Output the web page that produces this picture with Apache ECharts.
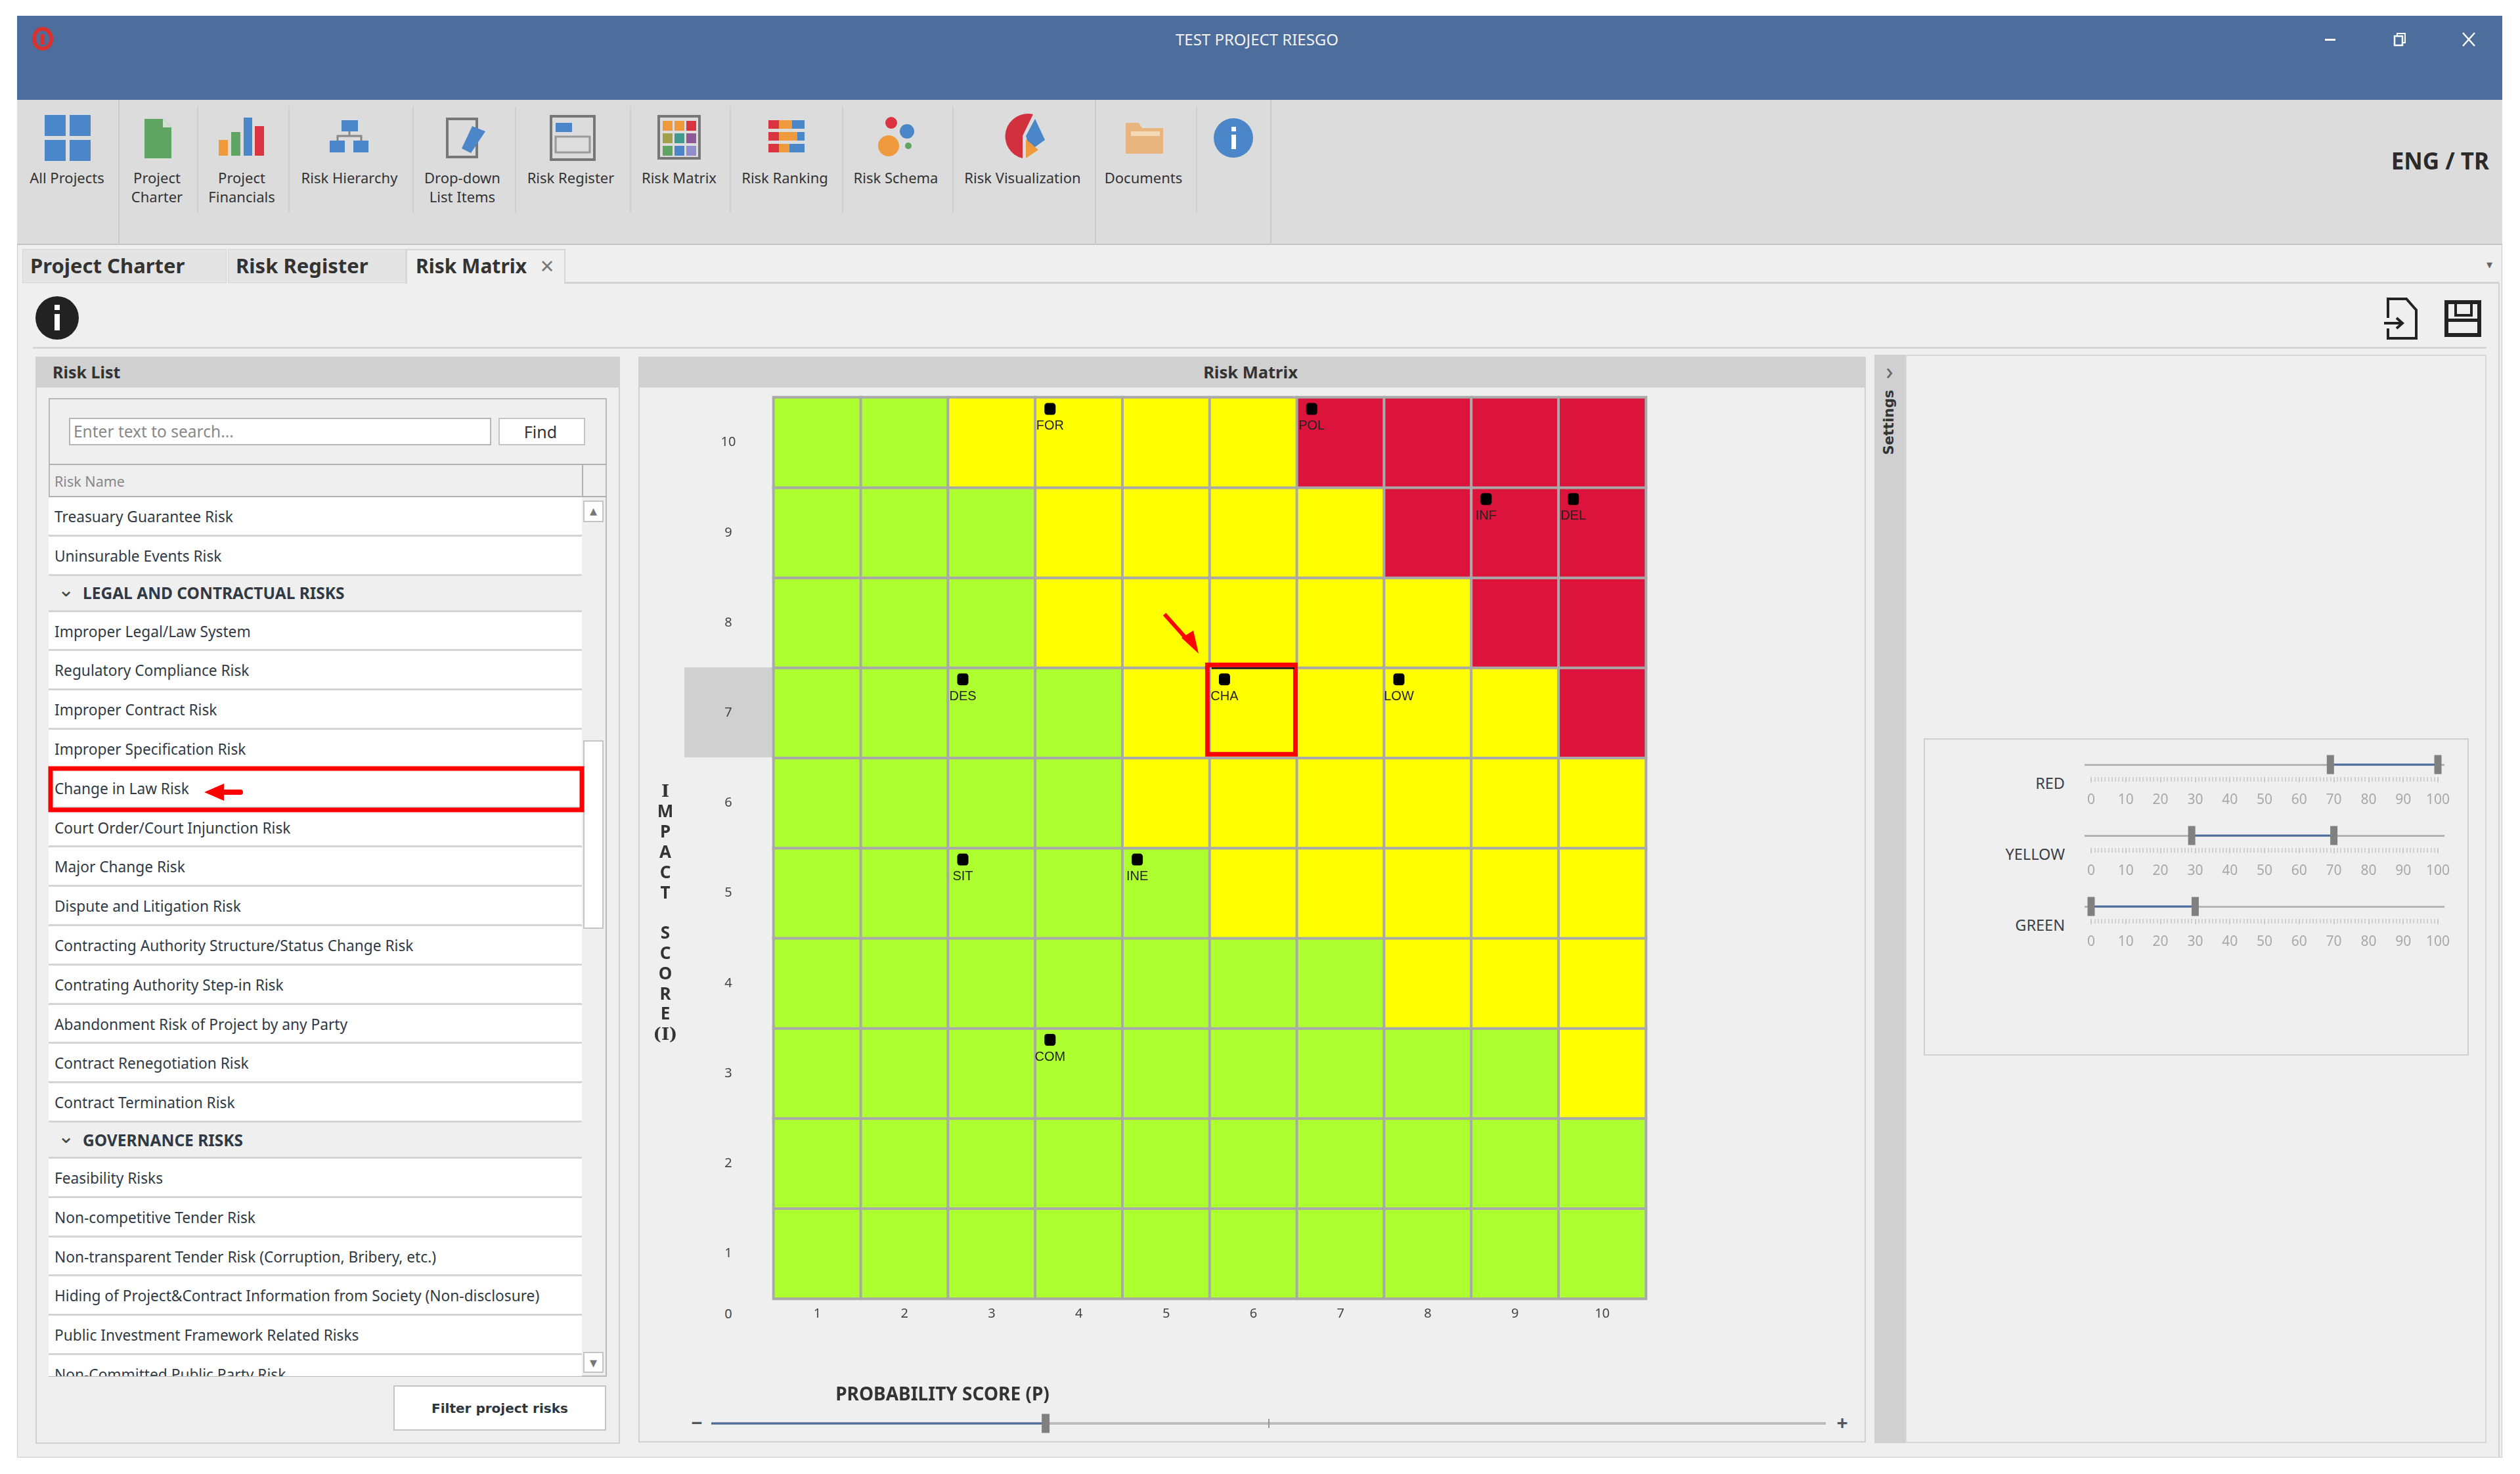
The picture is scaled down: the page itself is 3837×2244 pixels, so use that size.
<!DOCTYPE html>
<html>
<head>
<meta charset="utf-8">
<title>Risk Matrix</title>
<script src="https://cdn.jsdelivr.net/npm/echarts@6/dist/echarts.min.js"></script>
<style>
html, body { margin: 0; padding: 0; background: #fff; }
#page { position: relative; width: 3837px; height: 2244px; overflow: hidden; font-family: "Noto Sans", sans-serif; color: #2c3640; }
#page div { position: absolute; box-sizing: border-box; white-space: nowrap; }
#chart { left: 0; top: 0; width: 3837px; height: 2244px; z-index: 1; }
#overlay { position: absolute; left: 0; top: 0; z-index: 2; pointer-events: none; }
</style>
</head>
<body>
<div id="page">
<div id="chart"></div>
<svg id="overlay" width="3837" height="2244" viewBox="0 0 3837 2244">
  <!-- logo + window buttons -->
  <ellipse cx="65" cy="59" rx="13" ry="15" fill="none" stroke="#d8322e" stroke-width="6"/>
  <rect x="62" y="52" width="6" height="16" fill="#d8322e"/>
  <rect x="3540" y="59" width="16" height="3" fill="#fff"/>
  <rect x="3646" y="55" width="12" height="14" fill="none" stroke="#fff" stroke-width="2.5"/>
  <path d="M3650 55v-4h12v14h-4" fill="none" stroke="#fff" stroke-width="2"/>
  <path d="M3750 50l18 20M3768 50l-18 20" stroke="#fff" stroke-width="2.5"/>
  <!-- all projects -->
  <g fill="#4a86c8"><rect x="68" y="175" width="32" height="32"/><rect x="106" y="175" width="32" height="32"/><rect x="68" y="213" width="32" height="32"/><rect x="106" y="213" width="32" height="32"/></g>
  <!-- charter -->
  <path d="M220 181h28l13 13v47h-41z" fill="#5fa463"/><path d="M248 181l13 13h-13z" fill="#cfe3d0"/>
  <!-- financials -->
  <rect x="333" y="213" width="14" height="24" fill="#ef9a3c"/><rect x="352" y="201" width="14" height="36" fill="#5fa463"/><rect x="371" y="179" width="13" height="58" fill="#4a86c8"/><rect x="388" y="192" width="14" height="45" fill="#d9343f"/>
  <!-- hierarchy -->
  <path d="M532 200v7M514 214v-7h36v7" fill="none" stroke="#888" stroke-width="3"/>
  <rect x="520" y="183" width="25" height="17" fill="#4a86c8"/><rect x="502" y="214" width="23" height="18" fill="#4a86c8"/><rect x="538" y="214" width="23" height="18" fill="#4a86c8"/>
  <!-- drop-down -->
  <rect x="681" y="181" width="45" height="58" fill="none" stroke="#777" stroke-width="4"/>
  <path d="M719 192l20 8-22 33-14-7z" fill="#4a86c8"/>
  <!-- register -->
  <rect x="839" y="177" width="66" height="66" fill="none" stroke="#777" stroke-width="4"/>
  <rect x="846" y="187" width="25" height="14" fill="#4a86c8"/><rect x="846" y="208" width="52" height="24" fill="#ddd" stroke="#999" stroke-width="3"/>
  <!-- matrix -->
  <rect x="1003" y="177" width="62" height="64" fill="#ddd" stroke="#777" stroke-width="4"/>
  <g><rect x="1009" y="184" width="15" height="15" fill="#ef9a3c"/><rect x="1027" y="184" width="15" height="15" fill="#ef9a3c"/><rect x="1045" y="184" width="15" height="15" fill="#d9343f"/>
  <rect x="1009" y="203" width="15" height="15" fill="#a3a04a"/><rect x="1027" y="203" width="15" height="15" fill="#3f9c8f"/><rect x="1045" y="203" width="15" height="15" fill="#8d5a97"/>
  <rect x="1009" y="222" width="15" height="15" fill="#5fa463"/><rect x="1027" y="222" width="15" height="15" fill="#4a86c8"/><rect x="1045" y="222" width="15" height="15" fill="#8f8fce"/></g>
  <!-- ranking -->
  <g><rect x="1170" y="183" width="16" height="13" fill="#d9343f"/><rect x="1186" y="183" width="20" height="13" fill="#ef9a3c"/><rect x="1206" y="183" width="19" height="13" fill="#4a86c8"/>
  <rect x="1170" y="201" width="16" height="13" fill="#d9343f"/><rect x="1186" y="201" width="28" height="13" fill="#ef9a3c"/><rect x="1214" y="201" width="11" height="13" fill="#4a86c8"/>
  <rect x="1170" y="219" width="16" height="13" fill="#d9343f"/><rect x="1186" y="219" width="16" height="13" fill="#ef9a3c"/><rect x="1202" y="219" width="23" height="13" fill="#4a86c8"/></g>
  <!-- schema -->
  <circle cx="1357" cy="187" r="9" fill="#d9343f"/><circle cx="1381" cy="200" r="11" fill="#4a86c8"/><circle cx="1353" cy="222" r="16" fill="#ef9a3c"/><circle cx="1383" cy="222" r="5" fill="#5fa463"/>
  <!-- visualization -->
  <path d="M1557 207l16-33A34 34 0 1 0 1557 241z" fill="#d2303f"/>
  <path d="M1562 207l14-26 15 32-22 16z" fill="#4a86c8"/><path d="M1562 212l19 16-19 13z" fill="#ef9a3c"/>
  <!-- documents -->
  <path d="M1714 187h20l5 8h32v39h-57z" fill="#e8b57e"/><rect x="1722" y="200" width="44" height="7" fill="#f3d9b8"/>
  <!-- info -->
  <circle cx="1878" cy="210" r="30" fill="#4a86c8"/><rect x="1875" y="205" width="7" height="22" fill="#fff"/><rect x="1875" y="193" width="7" height="7" fill="#fff"/>
  <circle cx="87" cy="484" r="33" fill="#222"/><rect x="83" y="478" width="8" height="25" fill="#fff"/><rect x="83" y="464" width="8" height="8" fill="#fff"/>
  <!-- export + save -->
  <path d="M3636 484v-29h28l15 17v43h-43v-15" fill="none" stroke="#222" stroke-width="4"/>
  <path d="M3630 492h28m-9-8l9 8-9 8" fill="none" stroke="#222" stroke-width="4"/>
  <rect x="3725" y="460" width="50" height="50" fill="none" stroke="#222" stroke-width="6"/>
  <rect x="3725" y="485" width="50" height="5" fill="#222"/><rect x="3739" y="460" width="24" height="20" fill="none" stroke="#222" stroke-width="4"/>
  <!-- annotation arrows -->
  <path d="M1773 935l34 38" stroke="#ff0000" stroke-width="6" fill="none"/>
  <path d="M1825 995l-26-24 18-11z" fill="#ff0000"/>
  <path d="M338 1206h28" stroke="#ff0000" stroke-width="8" stroke-linecap="round"/>
  <path d="M311 1206l30-13v26z" fill="#ff0000"/>
  <!-- list highlight -->
  <rect x="77" y="1170" width="809" height="63" fill="none" stroke="#ff0000" stroke-width="7"/>
  <rect x="1845" y="1016" width="126" height="2.5" fill="#111"/>
</svg>
</div>
<script>
// ---- matrix data ----
var probLabels = ['1','2','3','4','5','6','7','8','9','10'];
var impactLabels = ['1','2','3','4','5','6','7','8','9','10'];
var zoneNames = ['green','yellow','red'];
var zoneColors = ['#adff2f','#ffff00','#dc143c'];
// one row per impact score, 1 at the bottom; 0 green, 1 yellow, 2 red
var impact1 = [0,0,0,0,0,0,0,0,0,0];
var impact2 = [0,0,0,0,0,0,0,0,0,0];
var impact3 = [0,0,0,0,0,0,0,0,0,1];
var impact4 = [0,0,0,0,0,0,0,1,1,1];
var impact5 = [0,0,0,0,0,1,1,1,1,1];
var impact6 = [0,0,0,0,1,1,1,1,1,1];
var impact7 = [0,0,0,0,1,1,1,1,1,2];
var impact8 = [0,0,0,1,1,1,1,1,2,2];
var impact9 = [0,0,0,1,1,1,1,2,2,2];
var impact10 = [0,0,1,1,1,1,2,2,2,2];
var zoneRows = [impact1,impact2,impact3,impact4,impact5,impact6,impact7,impact8,impact9,impact10];

var riskCodes = ['FOR','POL','INF','DEL','DES','CHA','LOW','SIT','INE','COM'];
var riskProb = [4,7,9,10,3,6,8,3,5,4];
var riskImpact = [10,10,9,9,7,7,7,5,5,3];
var selectedCell = [6,7];

// ---- slider values ----
var sliderNames = ['RED','YELLOW','GREEN'];
var redRange = [69,100];
var yellowRange = [29,70];
var greenRange = [0,30];
var probabilitySlider = 30;

// ---- interface text ----
var groupNames = ['LEGAL AND CONTRACTUAL RISKS','GOVERNANCE RISKS'];
var riskList = ['Treasuary Guarantee Risk','Uninsurable Events Risk','LEGAL AND CONTRACTUAL RISKS','Improper Legal/Law System','Regulatory Compliance Risk','Improper Contract Risk','Improper Specification Risk','Change in Law Risk','Court Order/Court Injunction Risk','Major Change Risk','Dispute and Litigation Risk','Contracting Authority Structure/Status Change Risk','Contrating Authority Step-in Risk','Abandonment Risk of Project by any Party','Contract Renegotiation Risk','Contract Termination Risk','GOVERNANCE RISKS','Feasibility Risks','Non-competitive Tender Risk','Non-transparent Tender Risk (Corruption, Bribery, etc.)','Hiding of Project&Contract Information from Society (Non-disclosure)','Public Investment Framework Related Risks','Non-Committed Public Party Risk'];
var ribbonLabels = ['All Projects','Project\nCharter','Project\nFinancials','Risk Hierarchy','Drop-down\nList Items','Risk Register','Risk Matrix','Risk Ranking','Risk Schema','Risk Visualization','Documents'];
var ribbonCenters = [102,239,368,532,704,869,1034,1195,1364,1557,1741];
var ribbonSeparators = [300,439,628,784,959,1111,1282,1450,1821];
var impactTitle = ['I','M','P','A','C','T',' ','S','C','O','R','E','(I)'];

var page = document.getElementById('page');
var chartDiv = document.getElementById('chart');

function box(x, y, w, h, css, parent) {
    var d = document.createElement('div');
    d.style.cssText = 'left:'+x+'px;top:'+y+'px;width:'+w+'px;height:'+h+'px;' + (css || '');
    (parent || page).insertBefore(d, parent ? null : chartDiv);
    return d;
}
// text centred vertically on cy; align l / c / r against x
function text(str, x, cy, size, css, align, parent) {
    var d = document.createElement('div');
    var tx = align === 'c' ? '-50%' : (align === 'r' ? '-100%' : '0');
    d.style.cssText = 'left:'+x+'px;top:'+cy+'px;transform:translate('+tx+',-50%);font-size:'+size+'px;line-height:1.2;' + (css || '');
    d.textContent = str;
    (parent || page).insertBefore(d, parent ? null : chartDiv);
    return d;
}

// window frame
box(26, 24, 3784, 2195, 'background:#efefef;border:1px solid #c8c8c8;');
box(26, 24, 3784, 128, 'background:#4d6d9c;');
box(26, 152, 3784, 221, 'background:#dcdcdc;border-bottom:2px solid #c4c4c4;');
text('TEST PROJECT RIESGO', 1914, 60, 24, 'color:#f2f2f2;', 'c');
text('ENG / TR', 3790, 245, 35, 'font-weight:bold;color:#2a2a2a;', 'r');
[180,1667,1934].forEach(function (x) { box(x, 152, 2, 221, 'background:#cacaca;'); });
ribbonSeparators.forEach(function (x) { box(x, 162, 2, 162, 'background:#cfcfcf;'); });
ribbonLabels.forEach(function (s, i) {
    s.split('\n').forEach(function (line, j) {
        text(line, ribbonCenters[i], 270 + j * 29, 22, 'color:#333;', 'c');
    });
});

// tabs
box(34, 379, 311, 52, 'background:#e4e4e4;border:1px solid #d6d6d6;');
box(347, 379, 271, 52, 'background:#e4e4e4;border:1px solid #d6d6d6;');
box(618, 379, 243, 53, 'background:#efefef;border:2px solid #d6d6d6;border-bottom:none;');
box(861, 429, 2944, 3, 'background:#d2d2d2;');
text('Project Charter', 46, 405, 31, 'font-weight:bold;color:#333;');
text('Risk Register', 359, 405, 31, 'font-weight:bold;color:#333;');
text('Risk Matrix', 633, 405, 30, 'font-weight:bold;color:#333;');
text('×', 833, 405, 36, 'color:#777;', 'c');
text('▾', 3790, 403, 18, 'color:#666;', 'c');
box(3804, 431, 2, 1788, 'background:#d2d2d2;');
box(50, 528, 3736, 3, 'background:#d6d6d6;');

// panels
box(54, 543, 890, 1655, 'border:2px solid #d0d0d0;');
box(54, 543, 890, 47, 'background:#d0d0d0;');
text('Risk List', 80, 566, 25, 'font-weight:bold;color:#333;');
box(972, 543, 1869, 1653, 'border:2px solid #d0d0d0;');
box(972, 543, 1869, 47, 'background:#d0d0d0;');
text('Risk Matrix', 1904, 566, 25.5, 'font-weight:bold;color:#333;', 'c');
box(2854, 540, 47, 1657, 'background:#d0d0d0;');
box(2901, 540, 885, 1657, 'border:2px solid #d8d8d8;');
text('›', 2877, 565, 36, 'color:#666;', 'c');
text('Settings', 2877, 643, 21, 'font-family:\'DejaVu Sans\';font-weight:bold;color:#333;transform:translate(-50%,-50%) rotate(-90deg);', 'c');
box(2929, 1124, 830, 483, 'border:2px solid #d0d0d0;');

// risk list
box(74, 606, 850, 1490, 'border:2px solid #b8b8b8;');
box(105, 636, 643, 42, 'background:#fff;border:2px solid #b5b5b5;');
box(759, 636, 132, 42, 'background:#fff;border:2px solid #c4c4c4;');
text('Enter text to search...', 112, 657, 24.5, 'color:#888;');
text('Find', 823, 657, 25, 'color:#333;', 'c');
box(74, 706, 850, 51, 'border-top:2px solid #b0b0b0;border-bottom:2px solid #b0b0b0;');
box(886, 706, 2, 51, 'background:#b0b0b0;');
text('Risk Name', 83, 733, 21.5, 'color:#888;');

var listBox = box(74, 757, 812, 1338, 'overflow:hidden;');
var rowTop = 0;
riskList.forEach(function (name) {
    var isGroup = groupNames.indexOf(name) >= 0;
    var h = isGroup ? 55 : 59.8;
    box(0, rowTop, 812, h, (isGroup ? 'background:#efefef;' : 'background:#fff;') + 'border-bottom:3px solid #d4d4d4;', listBox);
    if (isGroup) {
        text('⌄', 26, rowTop + 20, 30, 'color:#444;', 'c', listBox);
        text(name, 52, rowTop + h / 2 - 1, 24.5, 'font-weight:bold;color:#2f3a45;', 'l', listBox);
    } else {
        text(name, 9, rowTop + h / 2, 22.7, 'color:#2f3a45;', 'l', listBox);
    }
    rowTop += h;
});

// list scrollbar
box(888, 762, 31, 33, 'background:#fff;border:2px solid #c4c4c4;');
box(888, 1127, 31, 287, 'background:#fff;border:2px solid #c4c4c4;');
box(888, 2058, 31, 32, 'background:#fff;border:2px solid #c4c4c4;');
text('▴', 903, 776, 22, 'color:#777;', 'c');
text('▾', 903, 2073, 22, 'color:#777;', 'c');
box(599, 2109, 324, 69, 'background:#fff;border:2px solid #c4c4c4;');
text('Filter project risks', 761, 2144, 20, 'font-family:\'DejaVu Sans\';font-weight:bold;color:#2c3640;', 'c');

// matrix extras under the chart
box(1042, 1016, 136, 137, 'background:#d0d0d0;');
text('0', 1109, 2000, 20, 'color:#444;', 'c');
box(1083, 2165, 1697, 4, 'background:#bcbcbc;');
box(1931, 2160, 2, 14, 'background:#999;');
text('−', 1061, 2166, 30, 'color:#555;font-weight:bold;', 'c');
text('+', 2805, 2166, 30, 'color:#555;font-weight:bold;', 'c');

// slider tracks and names
[1164,1272,1380].forEach(function (y, i) {
    box(3174, y - 1.5, 548, 3, 'background:#b4b4b4;');
    text(sliderNames[i], 3144, y + 28, 23.5, 'color:#3a3f48;', 'r');
});

// ---- chart ----
var heatData = [];
zoneRows.forEach(function (row, i) {
    row.forEach(function (zone, p) {
        heatData.push({ name: zoneNames[zone], value: [p, i, zone], itemStyle: { color: zoneColors[zone] } });
    });
});
var riskPoints = riskCodes.map(function (code, i) {
    return { name: code, value: [riskProb[i] - 1, riskImpact[i] - 1] };
});

// stacked axis title, the empty first line pushes it below the grid centre
var impactName = '{pad| }\n' + impactTitle.map(function (s) {
    return (s.indexOf('I') >= 0 ? '{s|' : '{t|') + s + '}';
}).join('\n');

var sliderRanges = [redRange, yellowRange, greenRange];
var sliderTops = [1164, 1272, 1380];

var grids = [{ left: 1178, top: 605, width: 1328, height: 1372 }];
var xAxes = [{
    type: 'category', gridIndex: 0, data: probLabels,
    axisLine: { show: false }, axisTick: { show: false },
    axisLabel: { margin: 13, fontSize: 20, color: '#444', fontFamily: 'Noto Sans' },
    name: 'PROBABILITY SCORE (P)', nameLocation: 'middle', nameGap: 133,
    nameTextStyle: { fontSize: 28, fontWeight: 'bold', color: '#333', fontFamily: 'Noto Sans', padding: [0, 814, 0, 0] }
}];
var yAxes = [{
    type: 'category', gridIndex: 0, data: impactLabels,
    axisLine: { show: false }, axisTick: { show: false },
    axisLabel: { margin: 69, align: 'center', fontSize: 20, color: '#444', fontFamily: 'Noto Sans' },
    name: impactName, nameLocation: 'middle', nameRotate: 0, nameGap: 165,
    nameTextStyle: {
        align: 'center',
        rich: {
            pad: { lineHeight: 200, fontSize: 10 },
            t: { fontSize: 26, lineHeight: 30.8, fontWeight: 'bold', color: '#333', fontFamily: 'Noto Sans', align: 'center' },
            s: { fontSize: 26, lineHeight: 30.8, fontWeight: 'bold', color: '#333', fontFamily: 'DejaVu Serif', align: 'center' }
        }
    }
}];
var series = [
    {
        type: 'heatmap', name: 'zones', xAxisIndex: 0, yAxisIndex: 0, data: heatData,
        itemStyle: { borderColor: '#a9a9a9', borderWidth: 4 },
        emphasis: { disabled: true }
    },
    {
        type: 'scatter', name: 'selected', xAxisIndex: 0, yAxisIndex: 0, z: 3,
        symbol: 'rect', symbolSize: [134, 136], symbolOffset: [-3, -5],
        itemStyle: { color: 'rgba(0,0,0,0)', borderColor: '#ff0000', borderWidth: 7, opacity: 1 },
        data: [[selectedCell[0] - 1, selectedCell[1] - 1]], silent: true
    },
    {
        type: 'scatter', name: 'risks', xAxisIndex: 0, yAxisIndex: 0, z: 4,
        symbol: 'roundRect', symbolSize: [17, 18], symbolOffset: [-44, -51],
        itemStyle: { color: '#000', opacity: 1 },
        label: { show: true, position: 'bottom', distance: 7, formatter: '{b}', fontSize: 20, color: '#222', fontFamily: 'Liberation Sans' },
        data: riskPoints
    }
];

// threshold sliders, 0-100 each
sliderRanges.forEach(function (range, i) {
    var gi = grids.length;
    grids.push({ left: 3184, width: 528, top: sliderTops[i], height: 19 });
    xAxes.push({
        type: 'value', gridIndex: gi, min: 0, max: 100, interval: 10,
        axisLine: { show: false }, splitLine: { show: false },
        axisTick: { show: true, length: 8, lineStyle: { color: '#bdbdbd', width: 1.5 } },
        minorTick: { show: true, splitNumber: 10, length: 7, lineStyle: { color: '#c8c8c8', width: 1.5 } },
        axisLabel: { margin: 25, fontSize: 21, color: '#a8a8a8', fontFamily: 'Noto Sans', hideOverlap: false }
    });
    yAxes.push({ type: 'value', gridIndex: gi, min: 0, max: 1, show: false });
    var pts = range.map(function (v) { return [v, 1]; });
    series.push({
        type: 'line', xAxisIndex: gi, yAxisIndex: gi, data: pts, clip: false, showSymbol: false, silent: true,
        lineStyle: { color: '#4d6d9c', width: 3 }
    });
    series.push({
        type: 'scatter', xAxisIndex: gi, yAxisIndex: gi, data: pts, clip: false, silent: true, z: 5,
        symbol: 'rect', symbolSize: [11, 29], itemStyle: { color: '#808080', opacity: 1 }
    });
});

// probability zoom slider under the matrix
var pi = grids.length;
grids.push({ left: 1083, width: 1697, top: 2157, height: 10 });
xAxes.push({ type: 'value', gridIndex: pi, min: 0, max: 100, show: false });
yAxes.push({ type: 'value', gridIndex: pi, min: 0, max: 1, show: false });
series.push({
    type: 'line', xAxisIndex: pi, yAxisIndex: pi, data: [[0, 0], [probabilitySlider, 0]], clip: false, showSymbol: false, silent: true,
    lineStyle: { color: '#4d6d9c', width: 3 }
});
series.push({
    type: 'scatter', xAxisIndex: pi, yAxisIndex: pi, data: [[probabilitySlider, 0]], clip: false, silent: true, z: 5,
    symbol: 'rect', symbolSize: [12, 29], itemStyle: { color: '#808080', opacity: 1 }
});

var chart = echarts.init(chartDiv);
chart.setOption({
    animation: false,
    backgroundColor: 'transparent',
    tooltip: { show: false },
    grid: grids,
    xAxis: xAxes,
    yAxis: yAxes,
    series: series
});
</script>
</body>
</html>
